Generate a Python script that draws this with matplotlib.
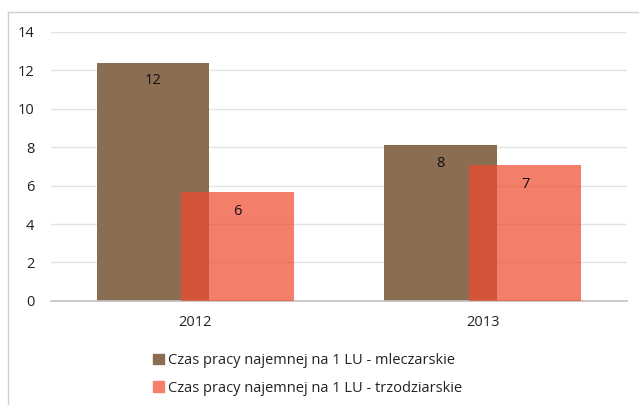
import matplotlib.pyplot as plt
import numpy as np
from matplotlib.patches import Rectangle

plt.rcParams['font.family'] = ['Open Sans', 'DejaVu Sans']

years = ['2012', '2013']
mleczarskie = [12.4, 8.1]
trzodziarskie = [5.65, 7.05]
labels_m = ['12', '8']
labels_t = ['6', '7']

fig = plt.figure(figsize=(6.39, 4.05), dpi=100)
ax = fig.add_axes([0.080, 0.257, 0.901, 0.664])

x = np.arange(len(years))
w = 0.39
off = 0.147
fs = 10.5

b1 = ax.bar(x - off, mleczarskie, w, color='#8B6D52', zorder=2,
            label='Czas pracy najemnej na 1 LU - mleczarskie')
b2 = ax.bar(x + off, trzodziarskie, w, color='#EF4B2E', alpha=0.71, zorder=3,
            label='Czas pracy najemnej na 1 LU - trzodziarskie')

for rect, t in zip(b1, labels_m):
    ax.annotate(t, (rect.get_x() + rect.get_width() / 2, rect.get_height()),
                xytext=(0, -18), textcoords='offset pixels',
                ha='center', va='center', fontsize=fs, color='#111111', zorder=5)
for rect, t in zip(b2, labels_t):
    ax.annotate(t, (rect.get_x() + rect.get_width() / 2, rect.get_height()),
                xytext=(0, -19), textcoords='offset pixels',
                ha='center', va='center', fontsize=fs, color='#111111', zorder=5)

ax.set_xlim(-0.5, 1.5)
ax.set_ylim(0, 14)
ax.set_yticks(range(0, 15, 2))
ax.set_xticks(x)
ax.set_xticklabels(years)
ax.yaxis.grid(True, color='#E3E3E3', linewidth=1, zorder=0)
ax.set_axisbelow(True)
for s in ['top', 'right', 'left']:
    ax.spines[s].set_visible(False)
ax.spines['bottom'].set_color('#BFBFBF')
ax.spines['bottom'].set_linewidth(1.2)
ax.tick_params(length=0, labelsize=fs, colors='#222222')
ax.tick_params(axis='x', pad=10)
ax.tick_params(axis='y', pad=12)

# outer chart border (left and top edges)
fig.add_artist(plt.Line2D([8 / 639, 8 / 639], [0, 1 - 12 / 405], transform=fig.transFigure,
                          color='#D0D0D0', linewidth=1))
fig.add_artist(plt.Line2D([8 / 639, 1], [1 - 12 / 405, 1 - 12 / 405], transform=fig.transFigure,
                          color='#D0D0D0', linewidth=1))

h1 = Rectangle((0, 0), 1, 1, color='#8B6D52')
h2 = Rectangle((0, 0), 1, 1, color='#F47F6B')
fig.legend([h1, h2], [b1.get_label(), b2.get_label()],
           loc='upper left', bbox_to_anchor=(140 / 639, 1 - 340 / 405),
           frameon=False, fontsize=fs, handlelength=0.75, handleheight=0.75,
           handletextpad=0.3, labelspacing=0.85, labelcolor='#222222')

fig.savefig('out.png', dpi=100)
